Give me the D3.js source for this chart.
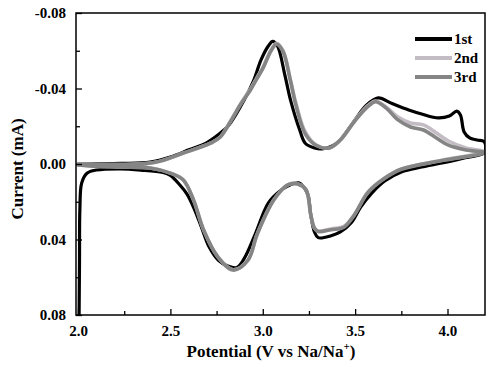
<!DOCTYPE html>
<html><head><meta charset="utf-8">
<script src="https://cdn.jsdelivr.net/npm/d3@7"></script>
<style>
body{margin:0;background:#fff;}
text{font-family:"Liberation Serif","Times New Roman",serif;font-weight:bold;}
</style></head>
<body><svg id="c" width="491" height="367"></svg>
<script>
// ---- data ----
const xTicks = [2.0, 2.5, 3.0, 3.5, 4.0];
const xMinor = [2.25, 2.75, 3.25, 3.75];
const yTicks = [-0.08, -0.04, 0.00, 0.04, 0.08];
const yMinor = [-0.06, -0.02, 0.02, 0.06];
const seriesNames = ["1st", "2nd", "3rd"];

// 1st cycle: potential (V) and current (mA)
const v1 = [2.00,2.23,2.39,2.50,2.60,2.70,2.79,2.82,2.90,2.95,2.99,3.03,3.054,3.08,3.12,3.15,3.20,3.23,3.28,3.32,3.40,3.48,3.56,3.625,3.70,3.79,3.86,3.95,4.01,4.05,4.07,4.09,4.12,4.16,4.20,
  4.20,4.08,3.97,3.86,3.75,3.66,3.59,3.53,3.48,3.42,3.37,3.30,3.28,3.26,3.245,3.22,3.195,3.15,3.10,3.03,2.96,2.90,2.86,2.81,2.76,2.71,2.67,2.63,2.59,2.55,2.50,2.46,2.34,2.23,2.10,2.05,2.02,2.01,2.008,2.005];
const i1 = [0.000,-0.0003,-0.001,-0.0037,-0.0075,-0.0115,-0.018,-0.021,-0.034,-0.044,-0.055,-0.0625,-0.065,-0.0625,-0.047,-0.034,-0.018,-0.011,-0.0085,-0.008,-0.011,-0.0207,-0.031,-0.035,-0.032,-0.0286,-0.0265,-0.0244,-0.0254,-0.028,-0.026,-0.017,-0.0138,-0.0127,-0.0117,
  -0.006,-0.003,-0.0005,0.0016,0.0042,0.009,0.0154,0.0228,0.031,0.036,0.038,0.039,0.036,0.027,0.0164,0.012,0.010,0.011,0.0138,0.0207,0.037,0.050,0.0548,0.054,0.051,0.044,0.034,0.024,0.016,0.011,0.006,0.0045,0.0032,0.0026,0.0032,0.0048,0.010,0.024,0.051,0.09];

// 2nd cycle
const v2 = [2.00,2.41,2.57,2.717,2.77,2.826,2.88,2.935,2.97,3.00,3.045,3.075,3.11,3.15,3.18,3.23,3.29,3.36,3.42,3.50,3.57,3.61,3.67,3.73,3.80,3.87,3.94,4.005,4.10,4.20,
  3.97,3.75,3.66,3.57,3.495,3.44,3.37,3.30,3.28,3.26,3.235,3.19,3.135,3.06,2.97,2.92,2.84,2.755,2.68,2.625,2.57,2.50,2.39,2.23,2.065,2.00];
const i2 = [0.000,-0.0008,-0.0058,-0.011,-0.0143,-0.023,-0.032,-0.040,-0.046,-0.051,-0.0605,-0.064,-0.060,-0.0445,-0.032,-0.017,-0.010,-0.0085,-0.0127,-0.0233,-0.031,-0.0334,-0.030,-0.025,-0.0217,-0.0207,-0.0164,-0.0122,-0.0085,-0.0064,
  -0.002,0.0026,0.0074,0.0148,0.027,0.033,0.0344,0.0355,0.034,0.027,0.0138,0.0106,0.011,0.019,0.037,0.0508,0.056,0.049,0.035,0.019,0.0085,0.0048,0.0021,0.0016,0.0010,0.0005];

// 3rd cycle
const v3 = [2.00,2.41,2.57,2.717,2.77,2.826,2.88,2.935,2.97,3.00,3.045,3.075,3.11,3.15,3.18,3.23,3.29,3.36,3.42,3.50,3.57,3.61,3.67,3.73,3.80,3.87,3.94,4.005,4.10,4.20,
  3.97,3.75,3.66,3.57,3.495,3.44,3.37,3.30,3.28,3.26,3.235,3.19,3.135,3.06,2.97,2.92,2.84,2.755,2.68,2.625,2.57,2.50,2.39,2.23,2.065,2.00];
const i3 = [0.000,-0.0008,-0.0058,-0.011,-0.0143,-0.0225,-0.0315,-0.0395,-0.0455,-0.0505,-0.060,-0.0635,-0.0595,-0.044,-0.031,-0.016,-0.0098,-0.0085,-0.0127,-0.023,-0.0305,-0.033,-0.0295,-0.0235,-0.0196,-0.018,-0.0138,-0.010,-0.0074,-0.006,
  -0.0018,0.0028,0.0076,0.015,0.027,0.0335,0.0348,0.0358,0.034,0.027,0.0138,0.0106,0.011,0.019,0.0372,0.051,0.0562,0.049,0.035,0.019,0.0085,0.0048,0.0021,0.0016,0.0010,0.0005];

const colors = ["#000000", "#c4bcc4", "#858585"];

// ---- chart ----
const svg = d3.select("#c");
const L = 76, R = 485, T = 13, B = 315;
const x = d3.scaleLinear().domain([1.989, 4.203]).range([L, R]);
const y = d3.scaleLinear().domain([-0.08, 0.08]).range([T, B]);

svg.append("clipPath").attr("id","clip").append("rect")
  .attr("x",L).attr("y",T).attr("width",R-L).attr("height",B-T);

const line = d3.line().x(d=>x(d[0])).y(d=>y(d[1])).curve(d3.curveCatmullRom.alpha(0.5));
const series = [d3.zip(v1,i1), d3.zip(v2,i2), d3.zip(v3,i3)];
const widths = [3.2, 3.6, 3.6];
const g = svg.append("g").attr("clip-path","url(#clip)");
series.forEach((s,k)=>{
  g.append("path").datum(s).attr("d",line).attr("fill","none")
   .attr("stroke",colors[k]).attr("stroke-width",widths[k])
   .attr("stroke-linejoin","round").attr("stroke-linecap","round");
});

// axes
const fmtY = d=> (d < 0 ? "-" : "") + Math.abs(d).toFixed(2);
const xAxis = d3.axisBottom(x).tickValues(xTicks).tickFormat(d3.format(".1f")).tickSizeInner(-6).tickSizeOuter(0).tickPadding(10);
const xAxisMinor = d3.axisBottom(x).tickValues(xMinor).tickFormat("").tickSizeInner(-4).tickSizeOuter(0);
const yAxis = d3.axisLeft(y).tickValues(yTicks).tickFormat(fmtY).tickSizeInner(-6).tickSizeOuter(0).tickPadding(10);
const yAxisMinor = d3.axisLeft(y).tickValues(yMinor).tickFormat("").tickSizeInner(-4).tickSizeOuter(0);

function style(sel){
  sel.select(".domain").remove();
  sel.selectAll("line").attr("stroke","#000").attr("stroke-width",1.3);
  sel.selectAll("text").attr("fill","#000").style("font-size","15px").style("font-weight","bold")
    .style("font-family",'"Liberation Serif","Times New Roman",serif');
}
svg.append("g").attr("transform",`translate(0,${B})`).call(xAxis).call(style);
svg.append("g").attr("transform",`translate(0,${B})`).call(xAxisMinor).call(style);
svg.append("g").attr("transform",`translate(${L},0)`).call(yAxis).call(style);
svg.append("g").attr("transform",`translate(${L},0)`).call(yAxisMinor).call(style);

// frame
svg.append("rect").attr("x",L).attr("y",T).attr("width",R-L).attr("height",B-T)
  .attr("fill","none").attr("stroke","#000").attr("stroke-width",1.5);

// titles
const xt = svg.append("text").attr("x",271).attr("y",357).attr("text-anchor","middle")
  .style("font-size","17px").attr("fill","#000");
xt.append("tspan").text("Potential (V vs Na/Na");
xt.append("tspan").attr("dy",-7).style("font-size","11px").text("+");
xt.append("tspan").attr("dy",7).text(")");

svg.append("text").attr("transform","translate(23,169) rotate(-90)").attr("text-anchor","middle")
  .style("font-size","17px").attr("fill","#000").text("Current (mA)");

// legend
const lg = svg.append("g");
seriesNames.forEach((n,k)=>{
  const yy = 39 + k*19;
  lg.append("line").attr("x1",415).attr("x2",452).attr("y1",yy).attr("y2",yy)
    .attr("stroke",colors[k]).attr("stroke-width",widths[k]+0.6);
  lg.append("text").attr("x",454).attr("y",yy+5).style("font-size","15px").attr("fill","#000").text(n);
});
</script></body></html>
